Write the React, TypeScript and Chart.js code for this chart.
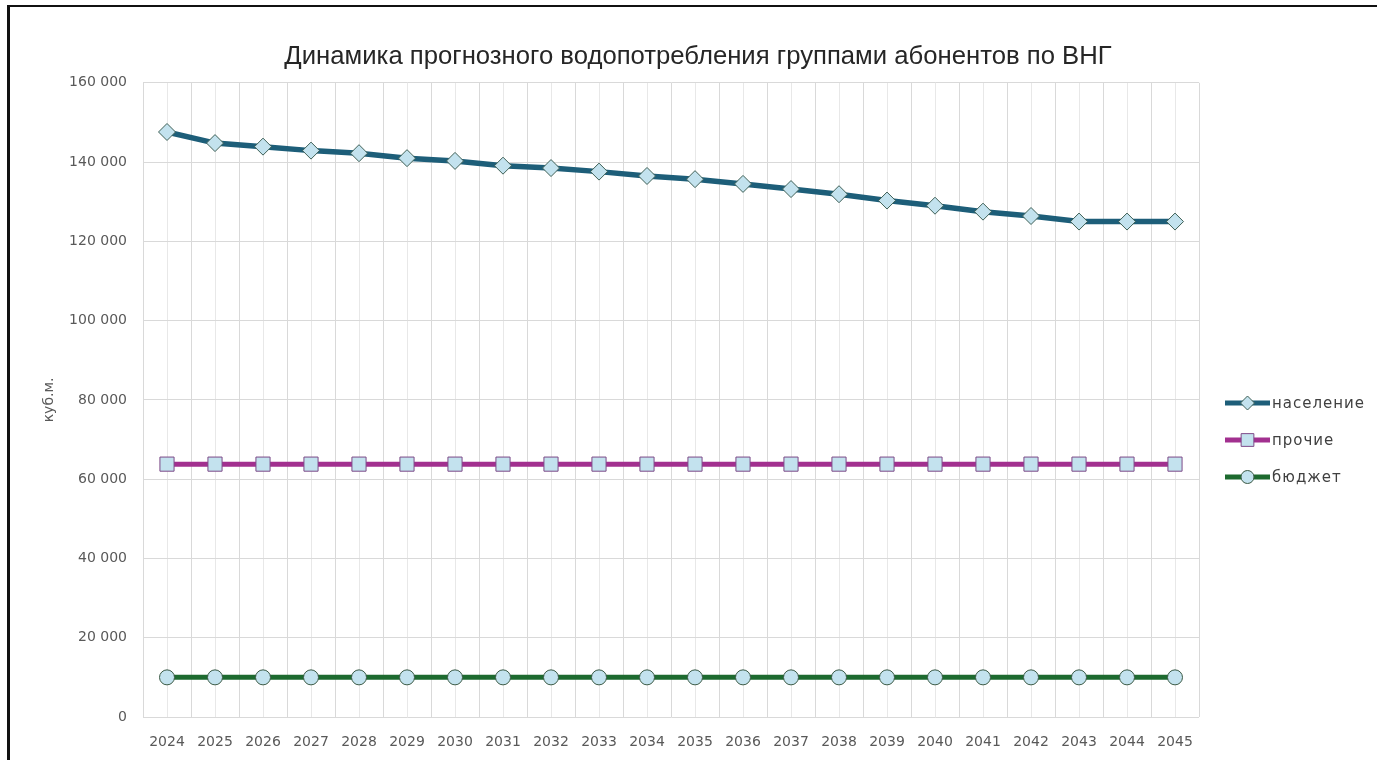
import React, { useEffect, useRef } from 'react';
import { Chart, registerables } from 'chart.js';

Chart.register(...registerables);

const TITLE = 'Динамика прогнозного водопотребления группами абонентов по ВНГ';
const Y_TITLE = 'куб.м.';

const years = ['2024', '2025', '2026', '2027', '2028', '2029', '2030', '2031', '2032', '2033', '2034',
  '2035', '2036', '2037', '2038', '2039', '2040', '2041', '2042', '2043', '2044', '2045'];

const naselenie = [147600, 144800, 143900, 142900, 142250, 141000, 140300, 139100, 138500, 137600, 136500,
  135700, 134500, 133200, 131900, 130300, 129000, 127500, 126400, 125000, 125000, 125000];

const prochie = [63800, 63800, 63800, 63800, 63800, 63800, 63800, 63800, 63800, 63800, 63800,
  63800, 63800, 63800, 63800, 63800, 63800, 63800, 63800, 63800, 63800, 63800];

const byudzhet = [10000, 10000, 10000, 10000, 10000, 10000, 10000, 10000, 10000, 10000, 10000,
  10000, 10000, 10000, 10000, 10000, 10000, 10000, 10000, 10000, 10000, 10000];

const seriesNames = ['население', 'прочие', 'бюджет'];
const yTicks = [0, 20000, 40000, 60000, 80000, 100000, 120000, 140000, 160000];

const fmt = (v: number) => String(v).replace(/\B(?=(\d{3})+(?!\d))/g, ' ');

const TICK_FONT = 'DejaVu Sans';
const MARKER_FILL = '#c3e2ee';

function drawMarker(ctx: CanvasRenderingContext2D, style: string, x: number, y: number, r: number) {
  ctx.beginPath();
  if (style === 'rectRot') {
    ctx.moveTo(x, y - r);
    ctx.lineTo(x + r, y);
    ctx.lineTo(x, y + r);
    ctx.lineTo(x - r, y);
    ctx.closePath();
  } else if (style === 'rect') {
    const s = r * Math.SQRT1_2;
    ctx.rect(x - s, y - s, 2 * s, 2 * s);
  } else {
    ctx.arc(x, y, r, 0, Math.PI * 2);
  }
  ctx.fill();
  ctx.stroke();
}

const sideLegend = {
  id: 'sideLegend',
  afterDraw(chart: any) {
    const ctx: any = chart.ctx;
    const rows = [403, 440, 477];
    const lx0 = 1225;
    const lx1 = 1270;
    chart.data.datasets.forEach((ds: any, i: number) => {
      const y = rows[i];
      ctx.save();
      ctx.strokeStyle = ds.borderColor;
      ctx.lineWidth = 5;
      ctx.beginPath();
      ctx.moveTo(lx0, y);
      ctx.lineTo(lx1, y);
      ctx.stroke();
      ctx.fillStyle = ds.pointBackgroundColor;
      ctx.strokeStyle = ds.pointBorderColor;
      ctx.lineWidth = 1;
      const r = ds.pointStyle === 'rect' ? 9 : ds.pointStyle === 'rectRot' ? 7 : 6.5;
      drawMarker(ctx, ds.pointStyle, (lx0 + lx1) / 2, y, r);
      ctx.fillStyle = '#404040';
      ctx.font = '15px "' + TICK_FONT + '"';
      if ('letterSpacing' in ctx) ctx.letterSpacing = '1px';
      ctx.textBaseline = 'middle';
      ctx.textAlign = 'left';
      ctx.fillText(ds.label, lx1 + 2, y + 1);
      ctx.restore();
    });
  },
};

export default function App() {
  const canvasRef = useRef<HTMLCanvasElement | null>(null);

  useEffect(() => {
    if (!canvasRef.current) return;
    const chart = new Chart(canvasRef.current, {
      type: 'line',
      data: {
        labels: years,
        datasets: [
          {
            label: seriesNames[0],
            data: naselenie,
            borderColor: '#1d5e79',
            borderWidth: 5.5,
            pointStyle: 'rectRot',
            pointRadius: 8.5,
            pointBackgroundColor: MARKER_FILL,
            pointBorderColor: '#3e5f55',
            pointBorderWidth: 1,
            tension: 0,
          },
          {
            label: seriesNames[1],
            data: prochie,
            borderColor: '#a2308f',
            borderWidth: 5,
            pointStyle: 'rect',
            pointRadius: 10,
            pointBackgroundColor: MARKER_FILL,
            pointBorderColor: '#7d4a88',
            pointBorderWidth: 1,
            tension: 0,
          },
          {
            label: seriesNames[2],
            data: byudzhet,
            borderColor: '#1d6a2f',
            borderWidth: 5,
            pointStyle: 'circle',
            pointRadius: 7.5,
            pointBackgroundColor: MARKER_FILL,
            pointBorderColor: '#3b5a45',
            pointBorderWidth: 1,
            tension: 0,
          },
        ] as any,
      },
      options: {
        responsive: false,
        animation: false,
        layout: { padding: { left: 19, right: 0, top: 0, bottom: 13 } },
        plugins: {
          legend: { display: false },
          tooltip: { enabled: false },
          title: {
            display: true,
            text: TITLE,
            color: '#262626',
            font: { family: 'Liberation Sans', size: 25.7, weight: 'normal' as any },
            padding: { top: 41, bottom: 11 },
          },
        },
        scales: {
          x: {
            type: 'category',
            offset: true,
            grid: { offset: true, color: '#d9d9d9', lineWidth: 1, drawTicks: false },
            border: { display: false },
            ticks: {
              color: '#595959',
              font: { family: TICK_FONT, size: 14 },
              padding: 17,
              maxRotation: 0,
              autoSkip: false,
            },
            afterFit: (s: any) => { s.height = 30; },
          },
          x2: {
            type: 'category',
            position: 'bottom',
            offset: true,
            grid: { offset: false, color: '#e8e8e8', lineWidth: 1, drawTicks: false },
            border: { display: false },
            ticks: { display: false },
            afterFit: (s: any) => { s.height = 0; },
          },
          y: {
            min: 0,
            max: 160000,
            afterBuildTicks: (s: any) => { s.ticks = yTicks.map((v) => ({ value: v })); },
            grid: { color: '#d9d9d9', lineWidth: 1, drawTicks: false },
            border: { display: true, color: '#d9d9d9' },
            ticks: {
              color: '#595959',
              font: { family: TICK_FONT, size: 14 },
              padding: 16,
              callback: (v: any) => fmt(Number(v)),
            },
            title: {
              display: true,
              text: Y_TITLE,
              color: '#595959',
              font: { family: TICK_FONT, size: 14 },
              padding: { top: 22, bottom: 4 },
            },
            afterFit: (s: any) => { s.width = 124; },
          },
          legendSpace: {
            type: 'linear',
            position: 'right',
            display: true,
            grid: { display: false, drawTicks: false },
            border: { display: false },
            ticks: { display: false },
            afterFit: (s: any) => { s.width = 178; },
          },
        },
      } as any,
      plugins: [sideLegend],
    });
    return () => chart.destroy();
  }, []);

  return (
    <div style={{ position: 'absolute', left: 0, top: 0, width: 1377, height: 760, overflow: 'hidden', background: '#fff' }}>
      <canvas ref={canvasRef} width={1377} height={760} style={{ position: 'absolute', left: 0, top: 0 }} />
      <div
        style={{
          position: 'absolute',
          left: 7,
          top: 5,
          width: 1400,
          height: 800,
          borderTop: '2px solid #111',
          borderLeft: '3px solid #111',
          pointerEvents: 'none',
        }}
      />
    </div>
  );
}
